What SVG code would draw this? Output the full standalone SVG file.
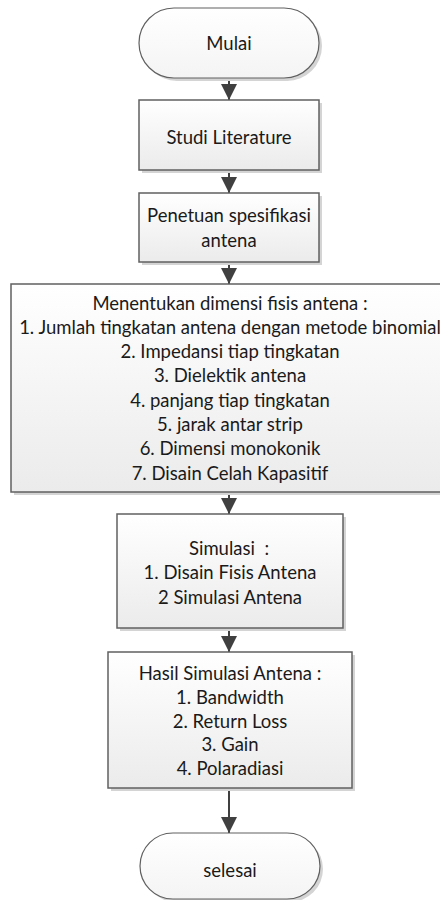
<svg xmlns="http://www.w3.org/2000/svg" width="440" height="900" viewBox="0 0 440 900">
<style>
.box{fill:url(#g);stroke:#606060;stroke-width:1.5}
.term{fill:url(#g2);stroke:#606060;stroke-width:1.2}
.sh{fill:#d4d4d4}
.t{font-family:Lato,"Open Sans",sans-serif;font-size:18.5px;fill:#1a1a1a;text-anchor:middle}
.c{stroke:#404040;stroke-width:2;fill:none;marker-end:url(#ah)}
</style>
<defs>
<linearGradient id="g" x1="0" y1="0" x2="0" y2="1"><stop offset="0" stop-color="#ffffff"/><stop offset="1" stop-color="#ebebeb"/></linearGradient>
<linearGradient id="g2" x1="0" y1="0" x2="0" y2="1"><stop offset="0" stop-color="#ffffff"/><stop offset="1" stop-color="#f4f4f4"/></linearGradient>
<marker id="ah" markerUnits="userSpaceOnUse" markerWidth="16" markerHeight="16" refX="16" refY="8" orient="auto" viewBox="0 0 16 16"><path d="M0,0 L16,8 L0,16 z" fill="#404040"/></marker>
</defs>
<rect width="440" height="900" fill="#ffffff"/>
<g id="connectors">
<line class="c" x1="229" y1="78" x2="229" y2="100"/>
<line class="c" x1="229" y1="170" x2="229" y2="193"/>
<line class="c" x1="229" y1="262" x2="229" y2="284"/>
<line class="c" x1="229" y1="492" x2="229" y2="514"/>
<line class="c" x1="229" y1="628" x2="229" y2="652"/>
<line class="c" x1="229" y1="788" x2="229" y2="833"/>
</g>
<g id="mulai">
<rect class="sh" x="142" y="11" width="180" height="70" rx="35"/>
<rect class="term" x="139" y="8" width="180" height="70" rx="35"/>
<text class="t" x="229" y="49.5">Mulai</text>
</g>
<g id="studi">
<rect class="sh" x="142" y="103" width="180" height="70"/>
<rect class="box" x="139" y="100" width="180" height="70"/>
<text class="t" x="229" y="143.5">Studi Literature</text>
</g>
<g id="penetuan">
<rect class="sh" x="142" y="196" width="180" height="69"/>
<rect class="box" x="139" y="193" width="180" height="69"/>
<text class="t" x="229" y="221.5">Penetuan spesifikasi</text>
<text class="t" x="229" y="246.5">antena</text>
</g>
<g id="dimensi">
<rect class="sh" x="14" y="287" width="438" height="208"/>
<rect class="box" x="11" y="284" width="438" height="208"/>
<text class="t" x="230" y="309.5">Menentukan dimensi fisis antena :</text>
<text class="t" x="230" y="333.8">1. Jumlah tingkatan antena dengan metode binomial</text>
<text class="t" x="230" y="358.1">2. Impedansi tiap tingkatan</text>
<text class="t" x="230" y="382.4">3. Dielektik antena</text>
<text class="t" x="230" y="406.7">4. panjang tiap tingkatan</text>
<text class="t" x="230" y="431">5. jarak antar strip</text>
<text class="t" x="230" y="455.3">6. Dimensi monokonik</text>
<text class="t" x="230" y="479.6">7. Disain Celah Kapasitif</text>
</g>
<g id="simulasi">
<rect class="sh" x="120" y="517" width="226" height="114"/>
<rect class="box" x="117" y="514" width="226" height="114"/>
<text class="t" x="229" y="554.5" xml:space="preserve">Simulasi  :</text>
<text class="t" x="230" y="578.5">1. Disain Fisis Antena</text>
<text class="t" x="230" y="603.5">2 Simulasi Antena</text>
</g>
<g id="hasil">
<rect class="sh" x="111" y="655" width="244" height="136"/>
<rect class="box" x="108" y="652" width="244" height="136"/>
<text class="t" x="230" y="680">Hasil Simulasi Antena :</text>
<text class="t" x="230" y="703.75">1. Bandwidth</text>
<text class="t" x="230" y="727.5">2. Return Loss</text>
<text class="t" x="230" y="751.25">3. Gain</text>
<text class="t" x="230" y="775">4. Polaradiasi</text>
</g>
<g id="selesai">
<rect class="sh" x="143" y="836" width="180" height="66" rx="33"/>
<rect class="term" x="140" y="833" width="180" height="66" rx="33"/>
<text class="t" x="230" y="876.5">selesai</text>
</g>
</svg>
